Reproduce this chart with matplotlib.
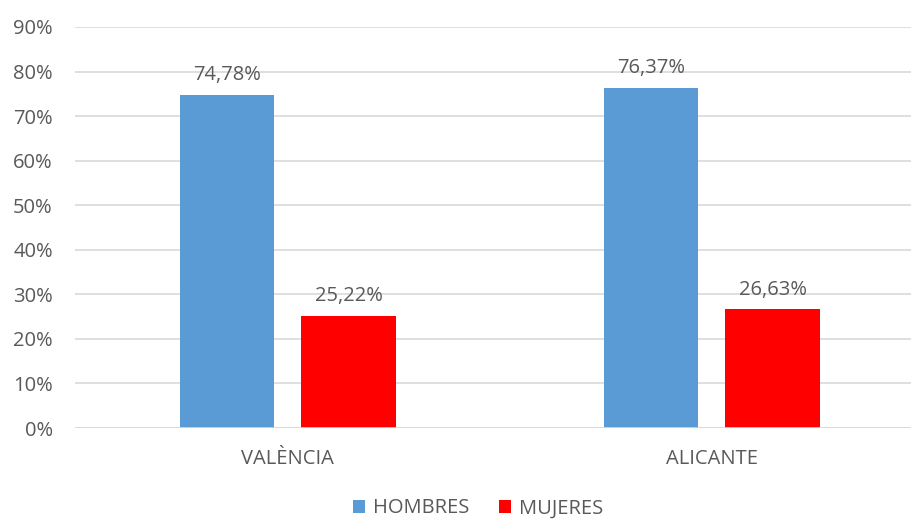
import matplotlib
matplotlib.use('Agg')
from matplotlib import pyplot as plt
import numpy as np

categories = ['VALÈNCIA', 'ALICANTE']
hombres = [74.78, 76.37]
mujeres = [25.22, 26.63]
yticks = [0, 10, 20, 30, 40, 50, 60, 70, 80, 90]

plt.rcParams['font.family'] = ['Open Sans', 'DejaVu Sans']
gray = '#595959'
fs = 14.5

fig = plt.figure(figsize=(9.12, 5.22), dpi=100)
ax = fig.add_axes([75 / 912, 1 - 428 / 522, 837 / 912, 401 / 522])

x = np.arange(len(categories))
w = 0.222
b1 = ax.bar(x - 0.143, hombres, w, color='#5b9bd5', label='HOMBRES', zorder=3)
b2 = ax.bar(x + 0.143, mujeres, w, color='#ff0000', label='MUJERES', zorder=3)

for bars, vals in ((b1, hombres), (b2, mujeres)):
    for rect, v in zip(bars, vals):
        ax.annotate(f'{v:.2f}%'.replace('.', ','),
                    (rect.get_x() + rect.get_width() / 2, v),
                    xytext=(0, 7), textcoords='offset points',
                    ha='center', va='bottom', fontsize=fs, color=gray)

ax.set_xlim(-0.502, 1.472)
ax.set_ylim(0, 90)
ax.set_yticks(yticks)
ax.set_yticklabels([f'{t}%' for t in yticks])
ax.set_xticks(x)
ax.set_xticklabels(categories)
ax.yaxis.grid(True, color='#d9d9d9', linewidth=1.2, zorder=0)
for s in ax.spines.values():
    s.set_visible(False)
ax.axhline(0, color='#d9d9d9', linewidth=1.2, zorder=4)
ax.tick_params(axis='both', length=0, labelsize=fs, colors=gray)
ax.tick_params(axis='x', pad=15)
ax.tick_params(axis='y', pad=16)

fig.legend(loc='lower center', bbox_to_anchor=(478 / 912, -0.016), ncol=2, frameon=False,
           fontsize=fs, labelcolor=gray, handlelength=0.6, handleheight=0.6,
           handletextpad=0.4, columnspacing=1.45, borderpad=0.1)

plt.savefig('out.png', dpi=100)
